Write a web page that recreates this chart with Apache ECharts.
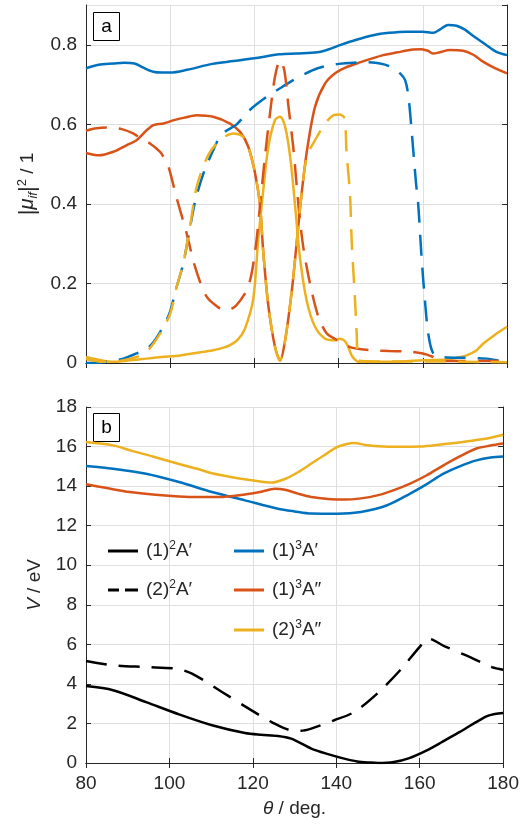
<!DOCTYPE html>
<html>
<head>
<meta charset="utf-8">
<title>Transition moments and potentials</title>
<script src="https://cdn.jsdelivr.net/npm/echarts@6/dist/echarts.min.js"></script>
<style>
  html, body { margin: 0; padding: 0; background: #fff; }
  #chart { width: 522px; height: 827px; }
</style>
</head>
<body>
<div id="chart"></div>
<script>
// ---- panel (a): squared transition dipole moments |mu_if|^2 ----
// solid: from (1)2A', dashed: from (2)2A'; blue (1)3A', orange (1)3A'', yellow (2)3A''
const thetaMu11 = [80,83,86.5,89,91.5,93.5,96,98,100,104,110,115,120,126,130,135,137.5,140.3,144,148.2,152,156.2,160,162.5,164,166,168,170,172,175,177.5,180];
const mu11 = [0.741,0.750,0.753,0.755,0.753,0.743,0.732,0.730,0.730,0.737,0.752,0.759,0.766,0.776,0.778,0.781,0.788,0.799,0.812,0.824,0.830,0.833,0.833,0.830,0.838,0.850,0.848,0.838,0.822,0.800,0.782,0.774];

const thetaMu12 = [80,83,86.5,89.7,92,94.4,96,98.4,100.7,103.5,106.3,110.2,114.2,116.6,118.5,120.1,121.3,122.1,123.3,124.9,126.1,127.3,128.9,130.1,131.3,132.5,134.4,136.8,139.1,141.5,144.3,147.5,150.6,154,157.7,159.7,161.2,162.4,164,166.4,169.6,172,174.4,177,180];
const mu12 = [0.528,0.522,0.531,0.548,0.560,0.585,0.598,0.602,0.610,0.617,0.623,0.619,0.602,0.581,0.545,0.48,0.40,0.28,0.145,0.04,0.006,0.057,0.183,0.309,0.434,0.535,0.644,0.703,0.728,0.742,0.753,0.764,0.774,0.781,0.788,0.789,0.785,0.778,0.781,0.787,0.785,0.775,0.757,0.742,0.728];

const thetaMu13 = [80,83,86.5,90,94.4,98,102.3,106,110.2,112.5,114.2,116,117.7,119.7,120.9,122.1,123.3,124.9,126.1,127.3,128.5,129.7,130.8,132.4,134.4,136.8,139.1,140.3,141.5,142.3,143.1,144,144.7,150,155,160,165.7,168,170.4,172.5,174.4,177,180];
const mu13 = [0.015,0.008,0.003,0.006,0.011,0.015,0.019,0.025,0.032,0.038,0.045,0.058,0.085,0.16,0.309,0.434,0.543,0.611,0.619,0.594,0.518,0.392,0.267,0.158,0.091,0.061,0.057,0.061,0.055,0.04,0.019,0.007,0.003,0.003,0.004,0.007,0.009,0.013,0.019,0.03,0.049,0.07,0.091];

const thetaMu21 = [80,83.3,86,88.9,92,94.4,96,97.6,99,100,101.5,103.1,104.7,106,108,110,111.8,113.5,115.8,118.9,122.9,126,129.2,132,135,138,140,143.5,146,148.7,151,152.8,154.6,155.8,156.6,157.4,158.4,158.9,159.7,160.5,161.3,162.5,164.9,170,175.2,178,180];
const mu21 = [0,0.001,0.005,0.011,0.024,0.035,0.052,0.078,0.105,0.13,0.19,0.25,0.34,0.41,0.48,0.53,0.569,0.585,0.60,0.636,0.669,0.69,0.711,0.727,0.741,0.749,0.752,0.755,0.756,0.755,0.750,0.742,0.728,0.711,0.669,0.577,0.451,0.401,0.267,0.158,0.074,0.024,0.015,0.013,0.011,0.006,0.0];

const thetaMu22 = [80,82.5,85.7,88.5,91.2,93.6,95.2,97.6,98.4,99.6,101.5,103.9,105.9,108.7,111.8,113.2,115.7,118.5,120.1,121.3,122.5,123.7,124.9,126.1,127.1,128.1,129.3,130.5,131.6,133.2,135.2,137.2,139.1,140.5,142.7,145,148.2,152,156.2,160,162.5,164.1,166,170,175,180];
const mu22 = [0.584,0.59,0.592,0.588,0.577,0.56,0.552,0.531,0.518,0.493,0.416,0.326,0.242,0.166,0.137,0.132,0.145,0.191,0.275,0.392,0.518,0.627,0.72,0.761,0.736,0.644,0.535,0.392,0.292,0.2,0.116,0.074,0.061,0.052,0.04,0.035,0.032,0.030,0.029,0.024,0.015,0.007,0.005,0.005,0.005,0.005];

const thetaMu23 = [80,84,88,92,94.4,97.6,100,101.5,103.1,104.7,106.3,109,111.8,114.9,117.3,118.5,120.1,121.3,122.1,123.3,124.9,126.1,127.3,128.9,130.1,131.3,132.5,134.4,136.8,138.8,140.3,141.4,141.9,142.7,143.1,143.9,144.3,144.7,150,160,170,180];
const mu23 = [0.01,0.003,0.005,0.015,0.028,0.074,0.124,0.19,0.25,0.342,0.443,0.522,0.56,0.577,0.569,0.545,0.48,0.40,0.28,0.145,0.04,0.006,0.057,0.183,0.309,0.434,0.52,0.56,0.602,0.623,0.625,0.615,0.527,0.426,0.309,0.158,0.074,0.007,0.004,0.004,0.003,0.002];

// ---- panel (b): potential energies V / eV ----
const thetaD1 = [80,86.5,94.4,102.3,110.2,118.1,122,126,129.2,134,138,141.9,145,148.2,150,153.8,157.5,161.7,165.5,169.6,173,176,178,180];
const vD1 = [3.89,3.68,3.08,2.46,1.91,1.52,1.43,1.37,1.23,0.73,0.45,0.22,0.08,0.02,0.0,0.05,0.25,0.64,1.08,1.57,2.0,2.36,2.48,2.53];

const thetaD2 = [80,86.5,94.4,101.5,105.4,112.6,119.7,124.5,129.2,131.5,134,139.5,144.3,149.8,155.3,160,162,166,171,177.3,180];
const vD2 = [5.16,4.94,4.85,4.77,4.52,3.59,2.66,2.07,1.65,1.63,1.74,2.16,2.58,3.51,4.69,5.87,6.29,5.9,5.45,4.85,4.72];

const thetaT1 = [80,86.5,94.4,102.3,110.2,118.1,126,130,134,140.3,145.9,152.2,157.7,161.7,165.7,169.6,173.6,177,180];
const vT1 = [15.02,14.88,14.63,14.21,13.70,13.28,12.86,12.72,12.61,12.6,12.69,13.03,13.62,14.1,14.63,15.0,15.30,15.45,15.5];

const thetaT2 = [80,85,90.5,96,102.3,107,111.8,118.1,122,125.3,127.7,130.8,134,138,141.9,145.9,149.8,153.8,157.7,161.7,165.7,169.6,173.6,177,180];
const vT2 = [14.09,13.9,13.70,13.57,13.48,13.45,13.45,13.58,13.72,13.87,13.82,13.62,13.45,13.35,13.32,13.38,13.53,13.8,14.13,14.55,15.05,15.5,15.9,16.05,16.15];

const thetaT3 = [80,86.5,91.2,96,102.3,107.1,110.2,115,119.7,124.5,127.7,130.8,134,137,140.3,142.5,144.3,147,150,155,160,165.7,170,173.6,177,180];
const vT3 = [16.23,16.06,15.77,15.5,15.12,14.85,14.65,14.45,14.3,14.18,14.36,14.7,15.14,15.55,15.98,16.13,16.18,16.08,16.02,15.99,16.0,16.12,16.22,16.33,16.45,16.6];

const stateNames = ['(1)²A′', '(2)²A′', '(1)³A′', '(1)³A″', '(2)³A″'];
const legendLabels = ['(1){sup|2}A′', '(2){sup|2}A′', '(1){sup|3}A′', '(1){sup|3}A″', '(2){sup|3}A″'];
const thetaTicks = { min: 80, max: 180, interval: 20 };

const BLUE = '#0072BD', ORANGE = '#D95319', YELLOW = '#EDB120', BLACK = '#000000';
const INK = '#262626';
const FONT = '"Liberation Sans", Arial, Helvetica, sans-serif';
const DASH = [21, 12];
const LW = 2.5;

const pairs = (xs, ys) => xs.map((x, i) => [x, ys[i]]);

function line(name, xs, ys, color, dashed, axisIndex) {
  return {
    type: 'line', name: name,
    xAxisIndex: axisIndex, yAxisIndex: axisIndex,
    data: pairs(xs, ys),
    showSymbol: false, symbol: 'none',
    smooth: 0.3,
    lineStyle: { color: color, width: LW, type: dashed ? DASH : 'solid' },
    itemStyle: { color: color },
    emphasis: { disabled: true },
    animation: false, z: 3
  };
}

const chart = echarts.init(document.getElementById('chart'), null, { renderer: 'canvas' });

const sup = { fontSize: 12, verticalAlign: 'top', lineHeight: 22, fontFamily: FONT, color: INK };
const richCommon = {
  sup: { fontSize: 13, verticalAlign: 'top', lineHeight: 24, fontFamily: FONT, color: INK },
  sub: { fontSize: 13, verticalAlign: 'bottom', lineHeight: 24, fontStyle: 'italic', fontFamily: FONT, color: INK },
  bar: { fontSize: 22, lineHeight: 24, fontFamily: FONT, color: INK },
  it: { fontStyle: 'italic', fontSize: 19, fontFamily: FONT, color: INK },
  mu: { fontStyle: 'italic', fontSize: 20, lineHeight: 24, fontFamily: FONT, color: INK },
  txt: { fontSize: 19, lineHeight: 24, fontFamily: FONT, color: INK }
};

function mainX(gridIndex, showLabels) {
  return {
    type: 'value', gridIndex: gridIndex, position: 'bottom',
    min: thetaTicks.min, max: thetaTicks.max, interval: thetaTicks.interval,
    axisLine: { show: true, lineStyle: { color: INK, width: 1 } },
    axisTick: { show: true, inside: true, length: 5, lineStyle: { color: INK } },
    axisLabel: { show: showLabels, color: INK, fontSize: 19, fontFamily: FONT, margin: 11 },
    splitLine: { show: true, lineStyle: { color: '#dfdfdf', width: 1 } },
    name: showLabels ? '{it|θ} / deg.' : '',
    nameLocation: 'middle', nameGap: 36,
    nameTextStyle: { fontSize: 19, fontFamily: FONT, color: INK, rich: richCommon }
  };
}
function mirrorX(gridIndex) {
  return {
    type: 'value', gridIndex: gridIndex, position: 'top',
    min: thetaTicks.min, max: thetaTicks.max, interval: thetaTicks.interval,
    axisLine: { show: true, lineStyle: { color: INK, width: 1 } },
    axisTick: { show: true, inside: true, length: 5, lineStyle: { color: INK } },
    axisLabel: { show: false }, splitLine: { show: false }
  };
}
function mainY(gridIndex, min, max, interval, name, gap) {
  return {
    type: 'value', gridIndex: gridIndex, position: 'left',
    min: min, max: max, interval: interval,
    axisLine: { show: true, lineStyle: { color: INK, width: 1 } },
    axisTick: { show: true, inside: true, length: 5, lineStyle: { color: INK } },
    axisLabel: { color: INK, fontSize: 19, fontFamily: FONT, margin: 9, showMaxLabel: max % interval === 0 },
    splitLine: { show: true, lineStyle: { color: '#dfdfdf', width: 1 } },
    name: name, nameLocation: 'middle', nameGap: gap, nameRotate: 90,
    nameTextStyle: { fontSize: 19, fontFamily: FONT, color: INK, rich: richCommon }
  };
}
function mirrorY(gridIndex, min, max, interval) {
  return {
    type: 'value', gridIndex: gridIndex, position: 'right',
    min: min, max: max, interval: interval,
    axisLine: { show: true, lineStyle: { color: INK, width: 1 } },
    axisTick: { show: true, inside: true, length: 5, lineStyle: { color: INK } },
    axisLabel: { show: false }, splitLine: { show: false }
  };
}

// legend key glyphs: a plain stroke, and a two-dash stroke for the dashed state
const KEY_SOLID = 'path://M0,0h30v3h-30z';
const KEY_DASHED = 'path://M0,0h11v3h-11zM17,0h13v3h-13z';

// one legend block per entry, laid out in two columns
const legendSlots = [
  { left: 108, top: 540 }, { left: 108, top: 579 },
  { left: 234, top: 540 }, { left: 234, top: 579 }, { left: 234, top: 619 }
];
const legends = stateNames.map((n, i) => ({
  show: true, orient: 'vertical', left: legendSlots[i].left, top: legendSlots[i].top,
  padding: 0, itemWidth: 30, itemHeight: 3, selectedMode: false,
  data: [{ name: n, icon: i === 1 ? KEY_DASHED : KEY_SOLID }],
  formatter: () => legendLabels[i],
  textStyle: { fontSize: 19, fontFamily: FONT, color: INK, lineHeight: 22, padding: [0, 0, 0, 3], rich: { sup: sup } }
}));

function panelTag(letter, top) {
  return {
    type: 'group', left: 93, top: top,
    children: [
      { type: 'rect', shape: { x: 0, y: 0, width: 26, height: 28 }, style: { fill: '#fff', stroke: '#000', lineWidth: 1 } },
      { type: 'text', x: 13, y: 14, style: { text: letter, font: '19px ' + FONT, fill: '#000', align: 'center', verticalAlign: 'middle' } }
    ],
    z: 10
  };
}

const option = {
  backgroundColor: '#ffffff',
  animation: false,
  grid: [
    { left: 86, right: 15, top: 5, height: 358 },
    { left: 86, right: 15, top: 407, height: 356 }
  ],
  xAxis: [mainX(0, false), mirrorX(0), mainX(1, true), mirrorX(1)],
  yAxis: [
    mainY(0, 0, 0.9, 0.2, '{bar||}{mu|μ}{sub|if}{bar||}{sup|2}{txt| / 1}', 45),
    mirrorY(0, 0, 0.9, 0.2),
    mainY(1, 0, 18, 2, '{it|V} / eV', 42),
    mirrorY(1, 0, 18, 2)
  ],
  legend: legends,
  series: [
    line('mu11', thetaMu11, mu11, BLUE, false, 0),
    line('mu12', thetaMu12, mu12, ORANGE, false, 0),
    line('mu13', thetaMu13, mu13, YELLOW, false, 0),
    line('mu21', thetaMu21, mu21, BLUE, true, 0),
    line('mu22', thetaMu22, mu22, ORANGE, true, 0),
    line('mu23', thetaMu23, mu23, YELLOW, true, 0),
    line(stateNames[0], thetaD1, vD1, BLACK, false, 2),
    line(stateNames[1], thetaD2, vD2, BLACK, true, 2),
    line(stateNames[2], thetaT1, vT1, BLUE, false, 2),
    line(stateNames[3], thetaT2, vT2, ORANGE, false, 2),
    line(stateNames[4], thetaT3, vT3, YELLOW, false, 2)
  ],
  graphic: [panelTag('a', 12), panelTag('b', 413)]
};

chart.setOption(option);
</script>
</body>
</html>
